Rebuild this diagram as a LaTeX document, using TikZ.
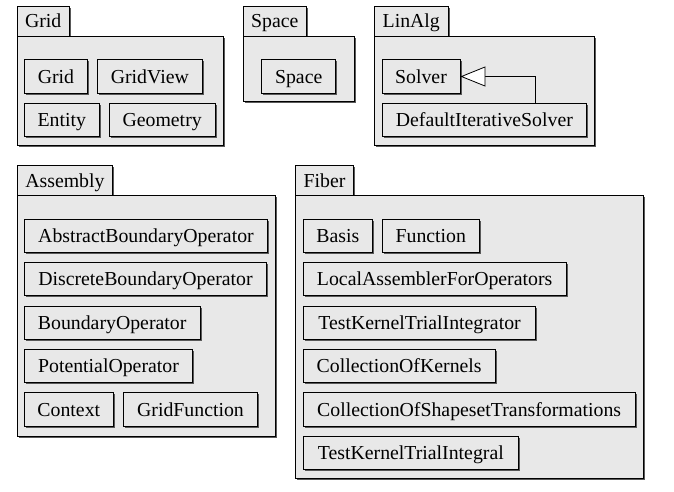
\documentclass[tikz,border=0pt]{standalone}
\usepackage{fontspec}
\setmainfont{Liberation Serif}
\usetikzlibrary{shadows,arrows.meta}
\definecolor{boxfill}{HTML}{E8E8E8}
\tikzset{
  base/.style={draw=black, line width=0.8pt, fill=boxfill, rectangle, inner sep=0pt,
    drop shadow={shadow xshift=1.6pt, shadow yshift=-1.6pt, fill=black!65, opacity=1},
    font=\fontsize{19.8}{22}\selectfont, text height=17pt, text depth=3.6pt},
  cls/.style={base, minimum height=33.4pt},
  pkgtab/.style={base, anchor=north west, minimum height=29.7pt},
  pkgbody/.style={base, anchor=north west},
}
\begin{document}
\begin{tikzpicture}[x=1pt,y=-1pt]
\useasboundingbox (0,0) rectangle (674,491);
% ---------- Grid package
\node[pkgtab, minimum width=52.3pt] (gridtab) at (16.7,6) {Grid};
\node[pkgbody, minimum width=206.3pt, minimum height=109.3pt] (gridpkg) at (16.7,35.7) {};
\node[cls, minimum width=63.4pt] (cgrid) at (56,76.5) {Grid};
\node[cls, minimum width=105.7pt] (cgridview) at (149.85,76.5) {GridView};
\node[cls, minimum width=75pt] (centity) at (61.8,120) {Entity};
\node[cls, minimum width=105.7pt] (cgeometry) at (162.15,120) {Geometry};
% ---------- Space package
\node[pkgtab, minimum width=63.3pt] (spacetab) at (242.7,6) {Space};
\node[pkgbody, minimum width=111.6pt, minimum height=65.3pt] (spacepkg) at (242.7,35.7) {};
\node[cls, minimum width=74pt] (cspace) at (298.7,76.5) {Space};
% ---------- LinAlg package
\node[pkgtab, minimum width=73.7pt] (linalgtab) at (374,6) {LinAlg};
\node[pkgbody, minimum width=220.3pt, minimum height=109.3pt] (linalgpkg) at (374,35.7) {};
\node[cls, minimum width=78pt] (csolver) at (421,76.5) {Solver};
\node[cls, minimum width=204.7pt] (cdefault) at (484.35,120) {DefaultIterativeSolver};
\coordinate (bend) at (535,76.5);
\draw[line width=0.8pt, -{Triangle[open, fill=white, length=25pt, width=20pt, line width=0.8pt]}]
  (cdefault.north -| bend) |- (csolver.east);
% ---------- Assembly package
\node[pkgtab, minimum width=95.6pt, minimum height=30pt] (assemblytab) at (16.7,165) {Assembly};
\node[pkgbody, minimum width=258.3pt, minimum height=241pt] (assemblypkg) at (16.7,195) {};
\node[cls, minimum width=243.4pt] (cabstract) at (146,235.65) {AbstractBoundaryOperator};
\node[cls, minimum width=242.4pt] (cdiscrete) at (145.5,279.15) {DiscreteBoundaryOperator};
\node[cls, minimum width=175.7pt] (cboundary) at (112.15,322.65) {BoundaryOperator};
\node[cls, minimum width=168.4pt] (cpotential) at (108.5,366) {PotentialOperator};
\node[cls, minimum width=89pt] (ccontext) at (68.8,409.35) {Context};
\node[cls, minimum width=134.4pt] (cgridfunction) at (190.5,409.35) {GridFunction};
% ---------- Fiber package
\node[pkgtab, minimum width=58.3pt, minimum height=30pt] (fibertab) at (295,165) {Fiber};
\node[pkgbody, minimum width=348.3pt, minimum height=283.3pt] (fiberpkg) at (295,195) {};
\node[cls, minimum width=69pt] (cbasis) at (337.8,235.65) {Basis};
\node[cls, minimum width=97pt] (cfunction) at (430.8,235.65) {Function};
\node[cls, minimum width=262.7pt] (clocal) at (434.65,279.15) {LocalAssemblerForOperators};
\node[cls, minimum width=232.4pt] (cintegrator) at (419.5,322.65) {TestKernelTrialIntegrator};
\node[cls, minimum width=191.7pt] (ckernels) at (399.15,366) {CollectionOfKernels};
\node[cls, minimum width=331.7pt] (cshapeset) at (469.15,409.35) {CollectionOfShapesetTransformations};
\node[cls, minimum width=215pt] (cintegral) at (410.8,453) {TestKernelTrialIntegral};
\end{tikzpicture}
\end{document}
